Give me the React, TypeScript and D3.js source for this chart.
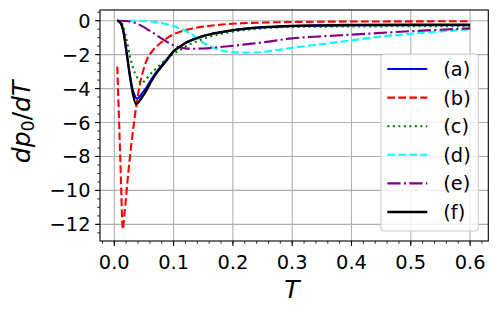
import React from 'react';
import * as d3 from 'd3';

// values
const tA = [0.005, 0.01, 0.015, 0.021, 0.0265, 0.031, 0.035, 0.0385, 0.042, 0.048, 0.0545, 0.062, 0.071, 0.08, 0.088, 0.1, 0.111, 0.122, 0.135, 0.15, 0.175, 0.2, 0.25, 0.3, 0.35, 0.4, 0.5, 0.6];
const vA = [0, -0.12, -0.6, -1.95, -3.25, -4.05, -4.45, -4.6, -4.5, -4.22, -3.92, -3.48, -3.03, -2.63, -2.3, -1.8, -1.53, -1.28, -1.09, -0.91, -0.71, -0.56, -0.4, -0.32, -0.29, -0.28, -0.27, -0.27];

const tB = [0.005, 0.0075, 0.01, 0.012, 0.0135, 0.0145, 0.016, 0.0185, 0.0209, 0.0235, 0.0265, 0.03, 0.034, 0.038, 0.044, 0.05, 0.055, 0.065, 0.077, 0.09, 0.1, 0.115, 0.13, 0.15, 0.175, 0.2, 0.25, 0.3, 0.4, 0.5, 0.6];
const vB = [-2.7, -5.3, -8.0, -10.3, -11.9, -12.3, -11.8, -10.9, -10.0, -9.0, -8.0, -6.9, -5.8, -4.8, -3.6, -2.8, -2.3, -1.75, -1.34, -1.0, -0.8, -0.6, -0.47, -0.35, -0.25, -0.18, -0.11, -0.08, -0.05, -0.04, -0.03];

const tC = [0.005, 0.01, 0.015, 0.021, 0.0265, 0.031, 0.035, 0.04, 0.046, 0.051, 0.057, 0.068, 0.08, 0.09, 0.1, 0.111, 0.119, 0.13, 0.145, 0.16, 0.18, 0.195, 0.22, 0.25, 0.3, 0.4, 0.5, 0.6];
const vC = [0, -0.05, -0.35, -1.14, -2.12, -2.7, -3.1, -3.45, -3.7, -3.55, -3.3, -2.9, -2.51, -2.2, -1.95, -1.73, -1.55, -1.35, -1.14, -0.95, -0.78, -0.67, -0.55, -0.45, -0.37, -0.34, -0.33, -0.33];

const tD = [0.005, 0.03, 0.05, 0.07, 0.09, 0.105, 0.117, 0.128, 0.14, 0.15, 0.162, 0.173, 0.19, 0.212, 0.24, 0.274, 0.3, 0.35, 0.4, 0.45, 0.5, 0.55, 0.6];
const vD = [0, 0, -0.02, -0.08, -0.22, -0.38, -0.55, -0.75, -1.05, -1.3, -1.52, -1.68, -1.82, -1.88, -1.87, -1.73, -1.6, -1.38, -1.16, -0.93, -0.77, -0.63, -0.51];

const tE = [0.005, 0.02, 0.03, 0.04, 0.05, 0.06, 0.07, 0.08, 0.09, 0.1, 0.11, 0.12, 0.135, 0.15, 0.17, 0.2, 0.225, 0.25, 0.3, 0.35, 0.4, 0.45, 0.5, 0.55, 0.6];
const vE = [0, -0.02, -0.08, -0.2, -0.38, -0.6, -0.82, -1.05, -1.27, -1.45, -1.57, -1.63, -1.65, -1.64, -1.58, -1.48, -1.38, -1.28, -1.04, -0.92, -0.82, -0.72, -0.62, -0.53, -0.45];

const tF = [0.005, 0.01, 0.015, 0.021, 0.0265, 0.031, 0.0365, 0.042, 0.048, 0.0545, 0.062, 0.071, 0.08, 0.088, 0.1, 0.111, 0.122, 0.135, 0.15, 0.175, 0.2, 0.25, 0.3, 0.35, 0.4, 0.5, 0.6];
const vF = [0, -0.1, -0.55, -1.92, -3.3, -4.25, -4.91, -4.75, -4.45, -4.09, -3.6, -3.1, -2.7, -2.35, -1.8, -1.52, -1.27, -1.08, -0.9, -0.7, -0.55, -0.38, -0.3, -0.27, -0.25, -0.24, -0.23];

const labels = ['(a)', '(b)', '(c)', '(d)', '(e)', '(f)'];
const xTicks = [0, 0.1, 0.2, 0.3, 0.4, 0.5, 0.6];
const yTicks = [0, -2, -4, -6, -8, -10, -12];

const W = 497;
const H = 313;
const left = 100, right = 488.3, top = 10, bottom = 241;

const series = [
  { t: tA, v: vA, color: '#0000ff', dash: 'none', w: 2.1 },
  { t: tB, v: vB, color: '#ff0000', dash: '7.7,3.3', w: 2.1 },
  { t: tC, v: vC, color: '#008000', dash: '2.1,3.4', w: 2.1 },
  { t: tD, v: vD, color: '#00ffff', dash: '7.7,3.3', w: 2.1 },
  { t: tE, v: vE, color: '#800080', dash: '13.3,3.3,2.1,3.3', w: 2.1 },
  { t: tF, v: vF, color: '#000000', dash: 'none', w: 2.3 },
];

export default function App() {
  const x = d3.scaleLinear().domain([-0.0241, 0.6307]).range([left, right]);
  const y = d3.scaleLinear().domain([-12.98, 0.63]).range([bottom, top]);

  const line = d3.line<[number, number]>()
    .x(d => x(d[0]))
    .y(d => y(d[1]))
    .curve(d3.curveMonotoneX);

  const xMinor = d3.range(-0.02, 0.6301, 0.02);
  const yMinor = d3.range(-12.5, 0.51, 0.5);
  const font = 'DejaVu Sans, sans-serif';

  const legX = 381, legY = 54, legW = 97.3, legH = 177;
  const rowY = (i: number) => 69 + i * 28.6;

  return (
    <svg width={W} height={H} style={{ position: 'fixed', left: 0, top: 0, background: '#fff' }}>
      <rect width={W} height={H} fill="#fff" />
      {/* grid */}
      {xTicks.map(t => (
        <line key={'gx' + t} x1={x(t)} x2={x(t)} y1={top} y2={bottom} stroke="#b0b0b0" strokeWidth={1.1} />
      ))}
      {yTicks.map(t => (
        <line key={'gy' + t} x1={left} x2={right} y1={y(t)} y2={y(t)} stroke="#b0b0b0" strokeWidth={1.1} />
      ))}

      {/* curves */}
      {series.map((s, i) => (
        <path
          key={i}
          d={line(s.t.map((t, j) => [t, s.v[j]] as [number, number])) || ''}
          fill="none"
          stroke={s.color}
          strokeWidth={s.w}
          strokeDasharray={s.dash}
        />
      ))}

      {/* spines */}
      <rect x={left} y={top} width={right - left} height={bottom - top} fill="none" stroke="#000" strokeWidth={1.1} />

      {/* x ticks */}
      {xMinor.map((t, i) => (
        <line key={'xm' + i} x1={x(t)} x2={x(t)} y1={bottom} y2={bottom + 2.8} stroke="#000" strokeWidth={0.8} />
      ))}
      {xTicks.map(t => (
        <g key={'xt' + t}>
          <line x1={x(t)} x2={x(t)} y1={bottom} y2={bottom + 4.9} stroke="#000" strokeWidth={1.1} />
          <text x={x(t)} y={269.3} textAnchor="middle" fontFamily={font} fontSize={19.4} fill="#000">
            {d3.format('.1f')(t)}
          </text>
        </g>
      ))}

      {/* y ticks */}
      {yMinor.map((t, i) => (
        <line key={'ym' + i} x1={left - 2.8} x2={left} y1={y(t)} y2={y(t)} stroke="#000" strokeWidth={0.8} />
      ))}
      {yTicks.map(t => (
        <g key={'yt' + t}>
          <line x1={left - 4.9} x2={left} y1={y(t)} y2={y(t)} stroke="#000" strokeWidth={1.1} />
          <text x={90.5} y={y(t) + 7} textAnchor="end" fontFamily={font} fontSize={19.4} fill="#000">
            {t < 0 ? '\u2212' + Math.abs(t) : String(t)}
          </text>
        </g>
      ))}

      {/* axis labels */}
      <text x={292} y={298} textAnchor="middle" fontFamily={font} fontSize={25} fontStyle="italic">T</text>
      <text transform={`translate(30,122) rotate(-90)`} textAnchor="middle" fontFamily={font} fontSize={25}>
        <tspan fontStyle="italic">dp</tspan>
        <tspan fontSize={17.5} dy={4}>0</tspan>
        <tspan dy={-4}>/</tspan>
        <tspan fontStyle="italic">dT</tspan>
      </text>

      {/* legend */}
      <rect x={legX} y={legY} width={legW} height={legH} rx={3.5} fill="#fff" fillOpacity={0.8} stroke="#cccccc" strokeWidth={1.1} />
      {series.map((s, i) => (
        <g key={'lg' + i}>
          <line x1={387.3} x2={427.3} y1={rowY(i)} y2={rowY(i)} stroke={s.color} strokeWidth={s.w} strokeDasharray={s.dash} />
          <text x={443.3} y={rowY(i) + 7} fontFamily={font} fontSize={19.4} fill="#000">{labels[i]}</text>
        </g>
      ))}
    </svg>
  );
}
